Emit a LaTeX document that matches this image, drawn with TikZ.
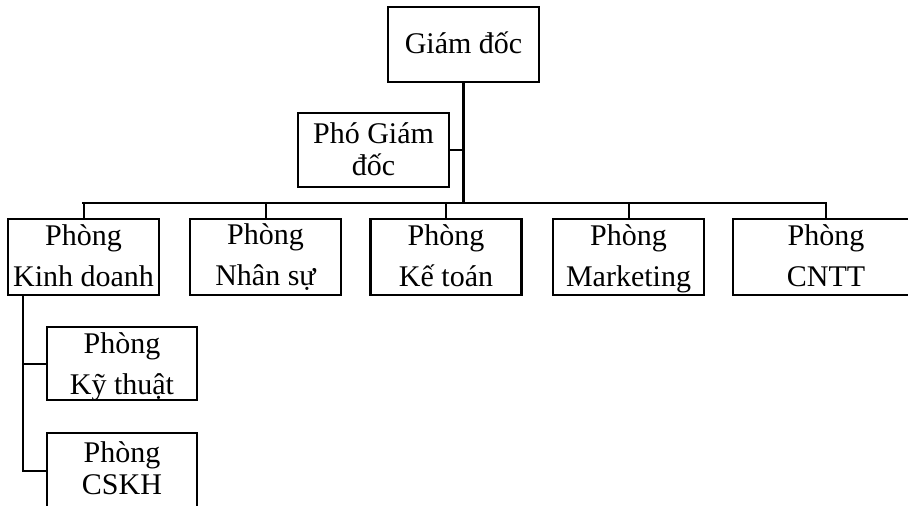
\documentclass[tikz,border=0pt]{standalone}
\usepackage{fontspec}
\setmainfont{Liberation Serif}
\newcommand{\twoline}[3]{\begin{tabular}[b]{@{}c@{}}#2\\[#1]#3\end{tabular}}
\begin{document}
\begin{tikzpicture}[x=1pt,y=-1pt,
  box/.style={draw, line width=2.4pt, inner sep=0pt, outer sep=0pt,
    minimum width=151pt, minimum height=76pt, align=center,
    font=\fontsize{30}{41}\selectfont, text depth=0pt, text height=58pt},
  conn/.style={line width=2pt, line cap=rect},
  trunk/.style={line width=3pt},
  busline/.style={line width=2.5pt, line cap=rect}]
\useasboundingbox (0,0) rectangle (908,506);
\clip (0,0) rectangle (908,506);
\node[box, minimum height=75pt, text height=17pt] (gd) at (463.5,44.5) {Giám đốc};
\node[box, minimum height=74pt, text height=50pt] (pgd) at (373.5,150) {\twoline{-9pt}{Phó Giám}{đốc}};
\node[box] (kd) at (83.5,257) {\twoline{0pt}{Phòng}{Kinh doanh}};
\node[box, text height=57pt] (ns) at (265.5,257) {\twoline{0pt}{Phòng}{Nhân sự}};
\node[box] (kt) at (446,257) {\twoline{0pt}{Phòng}{Kế toán}};
\node[box] (mk) at (628.5,257) {\twoline{0pt}{Phòng}{Marketing}};
\node[box, minimum width=186pt] (cntt) at (826,257) {\twoline{0pt}{Phòng}{CNTT}};
\node[box, minimum width=150pt, minimum height=73pt, text height=61pt] (ky) at (122,363.5) {\twoline{0pt}{Phòng}{Kỹ thuật}};
\node[box, minimum width=150pt, text height=46pt] (cskh) at (122,471) {\twoline{-9pt}{Phòng}{CSKH}};
\coordinate (busy) at (0,203);
\coordinate (kdv) at (23,295);
\draw[trunk] (gd.south) -- (gd.south |- busy);
\draw[conn] (pgd.east) -- (pgd.east -| gd.south);
\draw[busline] (kd.north |- busy) -- (cntt.north |- busy);
\foreach \n in {kd,ns,kt,mk,cntt} \draw[conn] (\n.north) -- (\n.north |- busy);
\draw[conn] (kdv) |- (ky.west);
\draw[conn] (kdv) |- (cskh.west);
\end{tikzpicture}
\end{document}
